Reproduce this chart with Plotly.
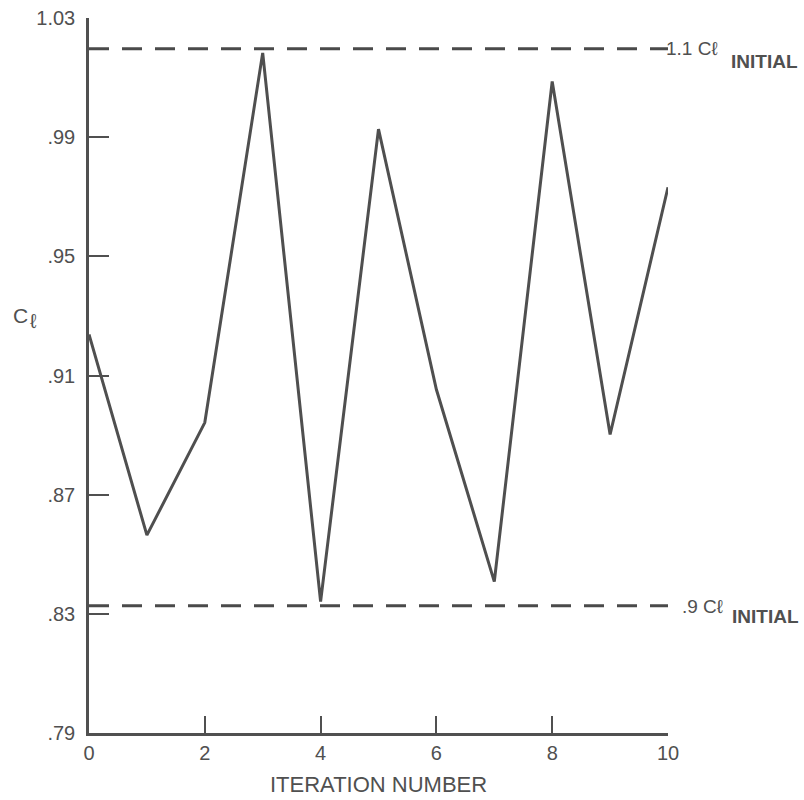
import plotly.graph_objects as go

iterations = [0, 1, 2, 3, 4, 5, 6, 7, 8, 9, 10]
cl_values = [0.9238, 0.8564, 0.8942, 1.0183, 0.8341, 0.9927, 0.9053, 0.8408, 1.0087, 0.8902, 0.9732]
upper_limit = 1.0197
lower_limit = 0.8327
limit_x = [0, 10]
y_ticks = [0.79, 0.83, 0.87, 0.91, 0.95, 0.99, 1.03]
y_tick_labels = [".79", ".83", ".87", ".91", ".95", ".99", "1.03"]
x_ticks = [0, 2, 4, 6, 8, 10]
x_tick_labels = ["0", "2", "4", "6", "8", "10"]

INK = "#505050"
FONT = "Liberation Sans, Arial, Helvetica, sans-serif"

fig = go.Figure()
fig.add_trace(go.Scatter(x=limit_x, y=[upper_limit, upper_limit], mode="lines",
                         line=dict(color="#4a4a4a", width=3, dash="20px,13px"),
                         hoverinfo="skip", showlegend=False, cliponaxis=False))
fig.add_trace(go.Scatter(x=limit_x, y=[lower_limit, lower_limit], mode="lines",
                         line=dict(color="#4a4a4a", width=3, dash="20px,13px"),
                         hoverinfo="skip", showlegend=False, cliponaxis=False))
fig.add_trace(go.Scatter(x=iterations, y=cl_values, mode="lines",
                         line=dict(color="#4f4f4f", width=3),
                         showlegend=False, cliponaxis=False))

lab = dict(showarrow=False, font=dict(size=19, color=INK))
sub = dict(showarrow=False, font=dict(size=19, color=INK, weight="bold"))

fig.update_layout(
    template="none",
    width=804, height=800,
    margin=dict(l=89, r=136, t=18, b=67, pad=0),
    paper_bgcolor="white", plot_bgcolor="white",
    font=dict(family=FONT, color=INK, size=20),
    xaxis=dict(range=[0, 10], tickvals=x_ticks, ticktext=x_tick_labels,
               ticks="inside", ticklen=17, tickwidth=2, tickcolor=INK,
               showline=True, linecolor=INK, linewidth=2.5, automargin=False,
               showgrid=False, zeroline=False, ticklabelstandoff=0,
               tickfont=dict(size=20, color=INK)),
    yaxis=dict(range=[0.79, 1.03], tickvals=y_ticks, ticktext=y_tick_labels,
               ticks="inside", ticklen=20, tickwidth=2, tickcolor=INK,
               showline=True, linecolor=INK, linewidth=2.5, automargin=False,
               showgrid=False, zeroline=False, ticklabelstandoff=7,
               tickfont=dict(size=20, color=INK)),
    annotations=[
        dict(text="ITERATION NUMBER", xref="paper", yref="paper", x=0.5, y=0,
             yshift=-51, xanchor="center", yanchor="middle", showarrow=False,
             font=dict(size=22, color=INK)),
        dict(text="C", xref="paper", yref="paper", x=0, y=0.5, xshift=-78,
             yshift=(800 - 67 - 18) / 2 + 18 - 315, xanchor="left", yanchor="middle",
             showarrow=False, font=dict(size=21, color=INK)),
        dict(text="ℓ", xref="paper", yref="paper", x=0, y=0.5, xshift=-61,
             yshift=(800 - 67 - 18) / 2 + 18 - 321, xanchor="left", yanchor="middle",
             showarrow=False, font=dict(size=20, color=INK)),
        dict(text="1.1 Cℓ", xref="paper", yref="y", x=1, y=upper_limit, xshift=-4,
             yshift=0, xanchor="left", yanchor="middle", **lab),
        dict(text="INITIAL", xref="paper", yref="y", x=1, y=upper_limit, xshift=61,
             yshift=-13, xanchor="left", yanchor="middle", **sub),
        dict(text=".9 Cℓ", xref="paper", yref="y", x=1, y=lower_limit, xshift=12,
             yshift=-1, xanchor="left", yanchor="middle", **lab),
        dict(text="INITIAL", xref="paper", yref="y", x=1, y=lower_limit, xshift=62,
             yshift=-11, xanchor="left", yanchor="middle", **sub),
    ],
)

fig.write_html("out.html")
